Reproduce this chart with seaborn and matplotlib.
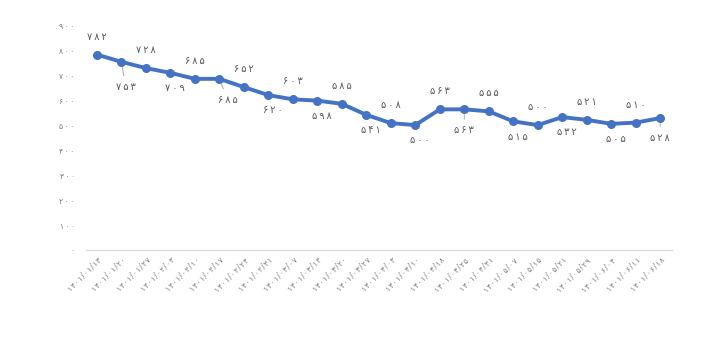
import numpy as np
import pandas as pd
import matplotlib
matplotlib.use("Agg")
import matplotlib.pyplot as plt
import seaborn as sns

# --- data ---
dates = ["1401/01/13", "1401/01/20", "1401/01/27", "1401/02/03", "1401/02/10",
         "1401/02/17", "1401/02/24", "1401/02/31", "1401/03/07", "1401/03/14",
         "1401/03/20", "1401/03/27", "1401/04/03", "1401/04/10", "1401/04/18",
         "1401/04/25", "1401/04/31", "1401/05/07", "1401/05/15", "1401/05/21",
         "1401/05/29", "1401/06/04", "1401/06/11", "1401/06/18"]
values = [782, 753, 728, 709, 685, 685, 652, 620, 603, 598, 585, 541,
          508, 500, 563, 563, 555, 515, 500, 532, 521, 505, 510, 528]
y_ticks = [0, 100, 200, 300, 400, 500, 600, 700, 800, 900]

FA = str.maketrans("0123456789", "۰۱۲۳۴۵۶۷۸۹")


def fa(s, sep=""):
    # persian digits, optionally spaced out like the original rendering
    return sep.join(str(s).translate(FA))


df = pd.DataFrame({"idx": np.arange(len(values)), "value": values})

sns.set_style("white")
plt.rcParams["font.family"] = ["DejaVu Sans"]

fig = plt.figure(figsize=(7.28, 3.64), dpi=100)
ax = fig.add_axes([0.118, 0.313, 0.805, 0.618])

blue = "#4472C4"
sns.lineplot(data=df, x="idx", y="value", ax=ax, color=blue, linewidth=2.8,
             marker="o", markersize=6.5, markeredgecolor=blue, markeredgewidth=0)

ax.set_xlim(-0.45, len(values) - 1 + 0.48)
ax.set_ylim(0, 900)
ax.set_yticks(y_ticks)
ax.set_yticklabels([fa(v, "\u2009") for v in y_ticks], fontsize=5.5, color="#7f7f7f")
ax.set_xticks(df["idx"])
ax.set_xticklabels([fa(d, "\u200a") for d in dates], rotation=45, ha="right",
                   rotation_mode="anchor", fontsize=5.5, color="#7f7f7f")
ax.tick_params(axis="both", length=0, pad=8)
ax.tick_params(axis="x", pad=4)
ax.set_xlabel("")
ax.set_ylabel("")
for s in ["top", "right", "left"]:
    ax.spines[s].set_visible(False)
ax.spines["bottom"].set_color("#d9d9d9")
ax.spines["bottom"].set_linewidth(1.0)

# data labels: alternate above / below, some with leader lines
lab = dict(ha="center", va="center", fontsize=7, color="#595959")
leader = {1: (3, -18), 5: (6, -15), 15: (0, -15), 23: (0, -14)}
for i, v in enumerate(values):
    txt = fa(v, "\u2009")
    if i in leader:
        ax.annotate(txt, (i, v), xytext=leader[i], textcoords="offset points",
                    arrowprops=dict(arrowstyle="-", color="#a6a6a6", lw=0.7,
                                    shrinkA=2, shrinkB=4), **lab)
    elif i % 2 == 0:
        ax.annotate(txt, (i, v), xytext=(0, 13), textcoords="offset points", **lab)
    else:
        ax.annotate(txt, (i, v), xytext=(3, -11), textcoords="offset points", **lab)

fig.savefig("out.png", dpi=100)
